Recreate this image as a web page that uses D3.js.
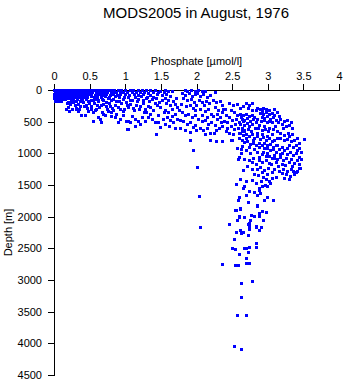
<!DOCTYPE html>
<html>
<head>
<meta charset="utf-8">
<script src="https://cdn.jsdelivr.net/npm/d3@7"></script>
<style>
  html, body { margin: 0; padding: 0; background: #fff; }
  svg { display: block; }
  text { font-family: "Liberation Sans", Arial, Helvetica, sans-serif; fill: #000; }
</style>
</head>
<body>
<svg id="chart" width="345" height="384"></svg>
<script>
// Phosphate [µmol/l] versus depth [m], samples grouped by layer: [phosphate, depth]
const surfaceLayer = [
  [0.01,10],[0.04,6],[0.07,12],[0.10,8],[0.13,14],[0.16,5],[0.19,11],[0.22,7],[0.25,13],[0.28,9],[0.31,4],[0.34,12],
  [0.37,8],[0.40,15],[0.44,6],[0.48,11],[0.52,9],[0.56,14],[0.60,5],[0.64,10],[0.68,13],[0.72,7],[0.76,12],[0.80,9],
  [0.85,6],[0.90,11],[0.95,8],[1.00,14],[1.07,10],[1.12,7],[1.18,12],[1.24,9],[1.30,15],[1.36,11],[1.42,6],
  [0.02,38],[0.05,44],[0.08,36],[0.11,42],[0.14,40],[0.17,46],[0.20,37],[0.23,43],[0.26,39],[0.29,45],[0.32,41],[0.35,38],
  [0.38,44],[0.42,40],[0.46,47],[0.50,36],[0.54,42],[0.59,45],[0.63,39],[0.67,43],[0.71,48],[0.75,37],[0.80,44],[0.84,41],
  [0.88,46],[0.93,39],[0.98,43],[1.03,47],[1.10,40],[1.16,45],[1.21,38],[1.27,44],[1.33,49],[1.40,42],[1.47,37],[1.55,45],
  [0.01,72],[0.04,78],[0.07,70],[0.10,76],[0.13,74],[0.16,80],[0.19,71],[0.22,77],[0.25,73],[0.28,79],[0.31,75],[0.34,70],
  [0.37,78],[0.41,74],[0.45,82],[0.49,71],[0.53,77],[0.58,80],[0.62,73],[0.66,76],[0.70,84],[0.74,72],[0.79,79],[0.83,75],
  [0.89,81],[0.94,70],[1.01,78],[1.06,85],[1.13,74],[1.19,80],[1.26,77],[1.35,83],[1.45,75],[1.52,88],[1.58,72],
  [0.01,108],[0.04,112],[0.07,105],[0.10,115],[0.13,110],[0.16,106],[0.19,113],[0.22,109],[0.25,116],[0.28,104],[0.31,111],
  [0.34,118],[0.38,107],[0.43,114],[0.47,120],[0.52,108],[0.57,117],[0.61,112],[0.66,122],[0.72,110],[0.78,118],[0.86,106],
  [0.92,115],[0.99,124],[1.05,112],[1.15,119],[1.23,108],[1.31,121],[1.39,115],
  [0.01,140],[0.04,146],[0.07,142],[0.10,150],[0.13,144],[0.16,148],[0.20,141],[0.24,152],[0.28,145],[0.33,155],[0.39,143],
  [0.46,150],[0.53,158],[0.59,146],[0.68,153],[0.77,141],[0.84,156],[0.97,148],[1.08,160],[1.19,143],
  [0.02,180],[0.06,186],[0.10,178],[0.20,190],[0.24,184],[0.28,195],[0.32,182],[0.37,188],[0.50,192],[0.62,185],[0.73,198],
  [0.88,180],[1.02,194],[1.17,186],
  [1.50,20],[1.57,12],[1.60,30],[1.67,25],[1.84,15],[1.88,28],[1.93,10],[1.98,22],[2.03,14],[2.08,30],[2.13,18],[2.26,35]
];

const upperLayer = [
  [0.19,215],[0.23,235],[0.27,205],[0.30,250],[0.34,228],[0.37,265],[0.21,280],[0.26,300],[0.31,290],[0.36,310],
  [0.18,305],[0.22,332],[0.32,305],[0.34,332],[0.39,410],[0.44,410],[0.48,332],[0.55,490],[0.65,463],[0.60,305],
  [0.69,384],[0.76,332],[0.81,358],[0.86,437],[0.93,463],[1.02,490],[1.07,516],[1.14,463],[1.18,490],[1.21,542],
  [1.04,621],[1.28,490],[1.30,358],[1.32,253],[0.66,510],[0.55,500],[1.04,500],[1.03,616],[1.44,695],
  [0.42,205],[0.45,240],[0.50,220],[0.53,265],[0.57,210],[0.61,245],[0.64,280],[0.70,225],[0.73,260],[0.78,210],
  [0.82,290],[0.87,240],[0.91,270],[0.95,215],[0.99,300],[1.03,250],[1.08,225],[1.11,285],[1.16,240],[1.22,265],
  [1.26,215],[1.29,300],[0.47,290],[0.58,320],[0.75,300],[0.97,345],[1.13,330],[0.68,350],[0.88,380],
  [0.40,170],[0.48,175],[0.55,168],[0.63,172],[0.70,165],[0.80,170],[0.92,175],[1.10,172],[1.25,165],[0.43,260],
  [0.52,300],[0.66,245],[0.79,265],[0.84,320],[0.93,310],[1.05,280],[1.20,310],[1.27,350],[0.56,360],[0.72,395],
  [0.62,430],[0.80,420],[0.98,410],[1.10,420],[1.24,430],[0.90,520],[1.15,580],
  [1.30,130],[1.34,180],[1.38,155],[1.42,210],[1.45,250],[1.48,190],[1.36,280],[1.40,320],[1.33,437],[1.38,470],
  [1.42,516],[1.49,595],[1.46,400],[1.35,380],[1.44,140],[1.52,170],[1.50,280],[1.55,360],[1.47,520],[1.53,460],
  [1.56,130],[1.60,160],[1.64,110],[1.68,175],[1.72,140],[1.58,220],[1.63,250],[1.70,230],[1.74,270],[1.57,320],
  [1.61,360],[1.66,300],[1.71,390],[1.59,440],[1.64,480],[1.68,520],[1.73,460],[1.62,580],[1.70,610],[1.56,540],
  [1.67,420],[1.76,330],[1.78,480],
  [1.80,60],[1.85,90],[1.90,55],[1.95,110],[1.99,75],[1.82,140],[1.88,170],[1.93,150],[1.97,200],[1.79,230],
  [1.86,260],[1.91,240],[1.96,290],[1.80,360],[1.84,410],[1.89,380],[1.94,440],[1.98,400],[1.82,500],[1.87,540],
  [1.92,520],[1.96,590],[1.85,640],[1.78,600],[1.91,670],[1.99,320],[2.00,250],[1.99,560],[2.00,640],
  [2.02,60],[2.06,95],[2.10,70],[2.15,120],[2.19,85],[2.04,160],[2.09,190],[2.14,175],[2.18,220],[2.03,460],
  [2.08,500],[2.12,480],[2.17,540],[2.21,520],[2.05,600],[2.10,640],[2.15,610],[2.20,680],[2.06,300],[2.13,340],
  [2.11,250],[2.17,300],[2.21,390],[2.08,410],[2.16,430],[2.12,700],
  [2.24,160],[2.28,200],[2.33,180],[2.37,240],[2.26,280],[2.31,320],[2.38,300],[2.24,420],[2.29,460],[2.34,440],
  [2.39,500],[2.27,560],[2.32,600],[2.37,580],[2.42,650],[2.25,680],[2.44,520],[2.30,380],[2.36,360],[2.42,410],
  [2.41,300],[2.35,520],[2.28,640],[2.44,600],
  [2.47,210],[2.52,250],[2.57,230],[2.62,290],[2.66,260],[2.49,330],[2.46,440],[2.51,480],[2.56,460],[2.61,520],
  [2.66,500],[2.49,580],[2.54,620],[2.59,600],[2.64,660],[2.68,640],[2.47,680],[2.53,360],[2.58,400],[2.63,430],
  [2.55,540],[2.60,680],[2.52,700]
];

const thermoclineLayer = [
  [2.70,215],[2.75,240],[2.79,220],[2.73,290],[2.78,320],[2.86,290],[2.90,300],[2.94,285],[2.98,310],[3.10,300],
  [2.84,330],[2.92,340],[3.02,330],[3.14,350],[3.16,420],[3.15,520],[2.86,460],[2.95,480],[3.02,500],
  [2.62,390],[2.66,410],[2.70,385],[2.74,420],[2.78,400],[2.82,430],[2.64,460],[2.68,480],[2.72,450],[2.76,500],
  [2.80,470],[2.84,510],[2.62,540],[2.67,560],[2.71,530],[2.75,580],[2.79,550],[2.83,600],[2.65,610],[2.73,620],
  [2.90,365],[2.94,380],[2.98,360],[3.02,390],[3.06,375],[3.10,400],[2.92,430],[2.96,450],[3.00,420],[3.04,460],
  [3.08,440],[3.12,480],[2.91,500],[2.99,510],[3.06,520],[2.88,560],[2.95,580],[3.03,600],[3.11,570],[2.92,640],[3.08,630],
  [2.87,610],[2.97,620],[3.01,660],[3.13,650],
  [3.18,470],[3.23,490],[3.28,480],[3.33,510],[3.20,550],[3.26,570],[3.31,560],[3.35,600],[3.22,610],
  [3.18,690],[3.24,720],[3.29,680],[3.35,700],[3.31,740],[3.42,760],
  [2.62,690],[2.66,720],[2.70,700],[2.74,740],[2.78,710],[2.82,760],[2.86,730],[2.90,780],[2.94,750],[2.98,800],
  [3.02,770],[3.06,820],[3.10,790],[2.64,790],[2.68,830],[2.72,810],[2.76,860],[2.80,840],[2.84,880],[2.88,850],
  [2.92,870],[2.96,840],[3.00,880],[3.04,860],[3.12,870],
  [2.67,650],[2.77,660],[2.85,680],[2.93,700],[3.00,730],[3.06,700],[3.14,760],[2.60,760],[2.70,770],[2.80,800],
  [3.18,770],[3.23,790],[3.28,780],[3.33,820],[3.38,800],[3.51,780],[3.30,880],[3.36,900],
  [3.44,840],[3.40,880],[3.45,930],[3.48,980],[3.42,960],[3.28,930],[3.20,900],[3.14,880],[3.08,940],
  [3.00,920],[3.04,950],[3.08,910],[3.12,980],[3.16,940],[3.20,1000],[3.24,960],[3.28,1020],[3.32,980],[3.36,1040],
  [3.40,1000],[3.44,1060],[3.02,1050],[3.06,1080],[3.10,1030],[3.14,1100],[3.18,1060],[3.22,1120],[3.26,1080],
  [3.30,1140],[3.34,1100],[3.38,1160],[3.42,1120],[3.05,1180],[3.15,1200],[3.25,1190],[3.35,1210],[3.45,1180],
  [3.10,1080],[3.18,1020],[3.47,1100],[3.46,1240],[3.42,1290],[3.36,1290],[3.20,1180],[3.12,1150],
  [3.22,1250],[3.28,1280],[3.34,1260],[3.40,1300],[3.44,1240],[3.26,1340],[3.32,1370],[3.38,1330],[3.30,1420],
  [3.16,1280],[3.10,1250],[3.20,1320],[3.12,1380],[3.07,1400],[3.24,1400],
  [2.58,920],[2.63,947],[2.63,1000],[2.65,895],[2.70,960],[2.76,1010],[2.82,940],[2.60,1060],[2.68,1090],[2.74,1120],
  [2.80,1080],[2.59,1094],[2.66,1274],[2.72,1200],[2.78,1250],[2.84,1180],[2.75,900],[2.79,1150],
  [2.88,900],[2.95,920],[2.86,990],[2.92,1020],[2.98,1050],[2.89,1060],[2.94,980],[3.00,1000],
  [2.88,1120],[2.93,1150],[2.98,1110],[3.03,1160],[2.90,1230],[2.96,1270],[3.01,1240],[3.06,1300],[2.87,1350],
  [2.94,1380],[3.00,1340],[2.91,1450],[2.97,1500],[3.04,1470],[2.88,1560],[2.85,1260],[2.81,1330],[2.93,1300],[2.98,1420],
  [1.91,805],[2.19,800],[2.28,810],[2.37,815],[2.51,805],[2.49,805],[1.96,963],[2.01,1227]
];

const deepLayer = [
  [2.62,1420],[2.70,1450],[2.78,1430],[2.84,1480],[2.93,1520],[2.66,1560],[2.74,1600],[2.81,1620],[2.90,1640],
  [2.60,1700],[3.00,1690],[2.56,1485],[2.68,1516],[2.70,1658],[2.85,1658],[2.89,1579],[3.00,1527],[3.03,1448],
  [2.59,1748],[2.73,1779],[2.85,1816],[2.95,1737],[3.08,1748],[2.56,1895],[2.62,1869],[2.77,1974],[2.89,1948],
  [2.98,1937],[2.61,2000],[2.75,2105],[2.84,2158],[2.91,2174],[2.04,1685],[2.06,2168],[2.46,2116],
  [2.85,1842],[2.55,1895],[2.62,1880],[2.92,1921],[2.98,1931],[2.81,2000],[2.88,1990],[2.60,2010],[2.68,2016],
  [2.57,2068],[2.94,2068],[2.76,2053],[2.73,2121],[2.74,2158],[2.84,2174],[2.74,2200],[2.89,2226],[2.62,2226],
  [2.66,2245],[2.63,2270],[2.56,2255],[2.54,2353],[2.73,2305],[2.84,2421],[2.84,2484],[2.51,2500],[2.55,2516],
  [2.67,2500],[2.70,2500],[2.74,2490],[2.73,2568],[2.60,2595],[2.70,2658],[2.36,2753],[2.55,2770],[2.59,2770],
  [2.70,2745],[2.75,2740],
  [2.79,3021],[2.63,3063],[2.63,3279],[2.57,3553],[2.70,3553],[2.54,4053],[2.63,4095]
];

const phosphateTicks = [0, 0.5, 1, 1.5, 2, 2.5, 3, 3.5, 4];
const depthTicks = [0, 500, 1000, 1500, 2000, 2500, 3000, 3500, 4000, 4500];

const samples = [].concat(surfaceLayer, upperLayer, thermoclineLayer, deepLayer);

const svg = d3.select("#chart");
const plot = { left: 54, right: 339, top: 90, bottom: 375 };

const x = d3.scaleLinear().domain([0, 4]).range([plot.left, plot.right]);
const y = d3.scaleLinear().domain([0, 4500]).range([plot.top, plot.bottom]);

svg.append("rect").attr("width", 345).attr("height", 384).attr("fill", "#fff");

// Title
svg.append("text")
  .attr("x", 196).attr("y", 18)
  .attr("text-anchor", "middle")
  .style("font-size", "15px")
  .text("MODS2005 in August, 1976");

// Phosphate axis along the top
const xAxis = svg.append("g")
  .attr("transform", `translate(0,${plot.top})`)
  .call(d3.axisTop(x).tickValues(phosphateTicks).tickFormat(d3.format("")).tickSize(6).tickSizeOuter(0).tickPadding(4));

// Depth axis, increasing downward
const yAxis = svg.append("g")
  .attr("transform", `translate(${plot.left},0)`)
  .call(d3.axisLeft(y).tickValues(depthTicks).tickFormat(d3.format("")).tickSize(6).tickSizeOuter(0).tickPadding(6));

[xAxis, yAxis].forEach(g => {
  g.selectAll("text").style("font-size", "11px").style("font-family", "'Liberation Sans', Arial, sans-serif").attr("fill", "#000");
  g.selectAll("line, path").attr("stroke", "#000").attr("shape-rendering", "crispEdges");
});

svg.append("text")
  .attr("x", (plot.left + plot.right) / 2).attr("y", 65)
  .attr("text-anchor", "middle")
  .style("font-size", "11px")
  .text("Phosphate [µmol/l]");

svg.append("text")
  .attr("transform", `translate(12,${(plot.top + plot.bottom) / 2}) rotate(-90)`)
  .attr("text-anchor", "middle")
  .style("font-size", "11px")
  .text("Depth [m]");

// Sample markers
svg.append("g")
  .attr("fill", "#0000ff")
  .attr("shape-rendering", "crispEdges")
  .selectAll("rect")
  .data(samples)
  .join("rect")
  .attr("x", d => Math.round(x(d[0]) - 1.5))
  .attr("y", d => Math.round(y(d[1]) - 1.5))
  .attr("width", 3)
  .attr("height", 3);
</script>
</body>
</html>
